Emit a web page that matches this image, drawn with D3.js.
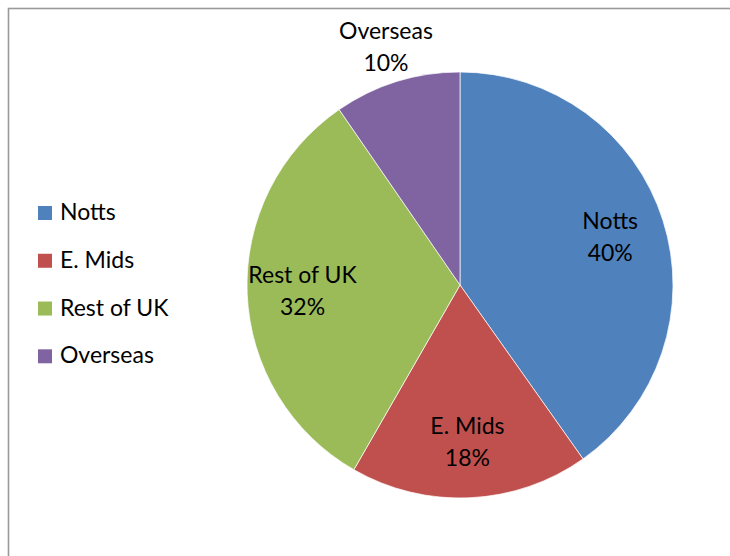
<!DOCTYPE html>
<html>
<head>
<meta charset="utf-8">
<script src="https://cdn.jsdelivr.net/npm/d3@7"></script>
<style>
  body { margin: 0; background: #fff; }
  text { font-family: Lato, "Open Sans", sans-serif; fill: #000; }
</style>
</head>
<body>
<svg id="canvas" width="730" height="556"></svg>
<script>
//Chart data
var categories = ["Notts", "E. Mids", "Rest of UK", "Overseas"];
var values = [40.2, 18.1, 32.1, 9.6];
var colours = ["#4F81BD", "#C0504D", "#9BBB59", "#8064A2"];

var svg = d3.select("#canvas"),
  width = +svg.attr("width"),
  height = +svg.attr("height");

//Chart frame (runs off the right and bottom edges)
svg.append("rect")
  .attr("x", 8.5).attr("y", 8.5)
  .attr("width", 740).attr("height", 570)
  .attr("fill", "none")
  .attr("stroke", "#999")
  .attr("stroke-width", 1.6);

var centerX = 460, centerY = 285, radius = 213;
var total = d3.sum(values);

var pie = d3.pie().sort(null).value(function(d) { return d.value; });
var arc = d3.arc().innerRadius(0).outerRadius(radius);
var labelArc = d3.arc().innerRadius(radius * 0.74).outerRadius(radius * 0.74);
var outerLabelArc = d3.arc().innerRadius(radius * 1.17).outerRadius(radius * 1.17);

var slices = pie(categories.map(function(c, i) { return {name: c, value: values[i], colour: colours[i]}; }));

var g = svg.append("g").attr("transform", "translate(" + centerX + "," + centerY + ")");

g.selectAll("path")
  .data(slices)
  .enter().append("path")
  .attr("d", arc)
  .attr("fill", function(d) { return d.data.colour; })
  .attr("stroke", "#fff")
  .attr("stroke-width", 0.7);

//Slice labels, small slices go outside
var labels = g.selectAll("text.lbl")
  .data(slices)
  .enter().append("text")
  .attr("class", "lbl")
  .attr("text-anchor", "middle")
  .style("font-size", "23px")
  .attr("transform", function(d) {
    var pos = (d.data.value / total < 0.12) ? outerLabelArc.centroid(d) : labelArc.centroid(d);
    return "translate(" + pos[0] + "," + pos[1] + ")";
  });

labels.append("tspan").attr("x", 0).attr("y", -8).text(function(d) { return d.data.name; });
labels.append("tspan").attr("x", 0).attr("y", 24)
  .text(function(d) { return Math.round(d.data.value / total * 100) + "%"; });

//Legend
var legendY = d3.scalePoint().domain(categories).range([220, 363.3]);

var legend = svg.append("g").selectAll("g")
  .data(categories)
  .enter().append("g")
  .attr("transform", function(d) { return "translate(38," + legendY(d) + ")"; });

legend.append("rect")
  .attr("x", 0).attr("y", -14)
  .attr("width", 14).attr("height", 14)
  .attr("fill", function(d, i) { return colours[i]; });

legend.append("text")
  .attr("x", 22).attr("y", 0)
  .style("font-size", "23px")
  .text(function(d) { return d; });
</script>
</body>
</html>
